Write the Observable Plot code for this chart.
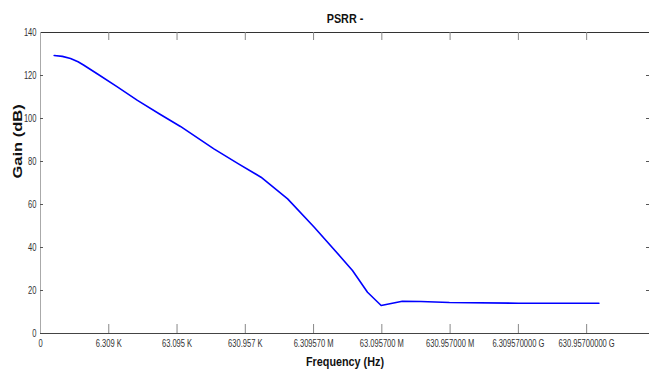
<!DOCTYPE html>
<html>
<head>
<meta charset="utf-8">
<script src="https://cdn.jsdelivr.net/npm/d3@7"></script>
<script src="https://cdn.jsdelivr.net/npm/@observablehq/plot@0.6"></script>
<style>
  html, body { margin: 0; padding: 0; background: #fff; }
  #chart { width: 649px; height: 370px; }
</style>
</head>
<body>
<div id="chart"></div>
<script>
// Tick positions on the (log-frequency) x axis, in decade steps, and their labels
const xTickPos = [0, 1, 2, 3, 4, 5, 6, 7, 8];
const xTickLabels = ["0", "6.309 K", "63.095 K", "630.957 K", "6.309570 M", "63.095700 M", "630.957000 M", "6.309570000 G", "630.95700000 G"];
const yTicks = [0, 20, 40, 60, 80, 100, 120, 140];

// PSRR- curve: position along the decade axis and gain (dB)
const decade = [0.2, 0.32, 0.44, 0.55, 0.63, 0.83, 1.12, 1.42, 1.75, 2.05, 2.54, 2.9, 3.23, 3.62, 4.01, 4.40, 4.57, 4.79, 4.99, 5.30, 5.57, 5.99, 7.0, 8.18];
const gainDb = [129.3, 128.9, 127.9, 126.4, 124.9, 120.8, 114.8, 108.4, 102.0, 96.3, 85.9, 78.9, 72.7, 62.6, 49.4, 35.5, 29.3, 19.2, 13.0, 15.0, 14.9, 14.4, 14.1, 14.1];

const titleText = "PSRR -";
const xLabelText = "Frequency (Hz)";
const yLabelText = "Gain (dB)";

(function () {
  const data = decade.map((d, i) => ({x: d, y: gainDb[i]}));

  const W = 649, H = 370;
  const mLeft = 40, xRight = 651, mTop = 32, yBottom = 333;
  const frameW = xRight - mLeft, frameH = yBottom - mTop;

  const chart = Plot.plot({
    width: W,
    height: H,
    marginLeft: mLeft,
    marginRight: 0,
    marginTop: mTop,
    marginBottom: H - yBottom,
    style: {
      fontFamily: "'Liberation Sans', Arial, sans-serif",
      fontSize: "10px",
      color: "#333",
      background: "#fff"
    },
    x: {domain: [0, 8.95], range: [mLeft, xRight], axis: null},
    y: {domain: [0, 140], axis: null},
    marks: [
      Plot.ruleY([140], {stroke: "#333", strokeWidth: 1}),
      Plot.ruleY([0], {stroke: "#444", strokeWidth: 1}),
      Plot.ruleX([0], {stroke: "#aaa", strokeWidth: 1}),
      Plot.tickX(xTickPos.slice(1), {x: d => d, insetTop: frameH - 9, stroke: "#888"}),
      Plot.tickX(xTickPos.slice(1), {x: d => d, insetBottom: frameH - 8, stroke: "#888"}),
      Plot.tickY(yTicks.slice(1, -1), {y: d => d, insetRight: frameW - 5, stroke: "#555"}),
      Plot.tickY(yTicks.slice(1, -1), {y: d => d, insetLeft: frameW - 5, stroke: "#555"}),
      Plot.axisX(xTickPos, {tickSize: 0, tickPadding: 6, tickFormat: i => xTickLabels[i], label: null, fill: "#333", fontSize: 10.5}),
      Plot.axisY(yTicks, {tickSize: 0, tickPadding: 4, label: null, fill: "#333", fontSize: 10.5}),
      Plot.line(data, {x: "x", y: "y", stroke: "#0000ff", strokeWidth: 1.6}),
      Plot.text([titleText], {frameAnchor: "top", dy: -14, lineAnchor: "middle", fontWeight: "bold", fontSize: 13.5, fill: "#111"}),
      Plot.text([xLabelText], {frameAnchor: "bottom", dy: 28, lineAnchor: "middle", fontWeight: "bold", fontSize: 13.5, fill: "#111"}),
      Plot.text([yLabelText], {frameAnchor: "left", dx: -23, dy: -4.5, rotate: -90, lineAnchor: "middle", fontWeight: "bold", fontSize: 16.5, fill: "#111"})
    ]
  });
  // condense the lettering horizontally, as in the (horizontally squeezed) original
  d3.select(chart).selectAll("text").each(function () {
    const t = this.getAttribute("transform");
    if (!t) return;
    const s = this.textContent;
    let sc;
    if (s === yLabelText) sc = "scale(1,0.78)";
    else if (s === titleText || s === xLabelText) sc = "scale(0.8,1)";
    else sc = "scale(0.72,1)";
    this.setAttribute("transform", t + " " + sc);
  });
  document.getElementById("chart").appendChild(chart);
})();
</script>
</body>
</html>
